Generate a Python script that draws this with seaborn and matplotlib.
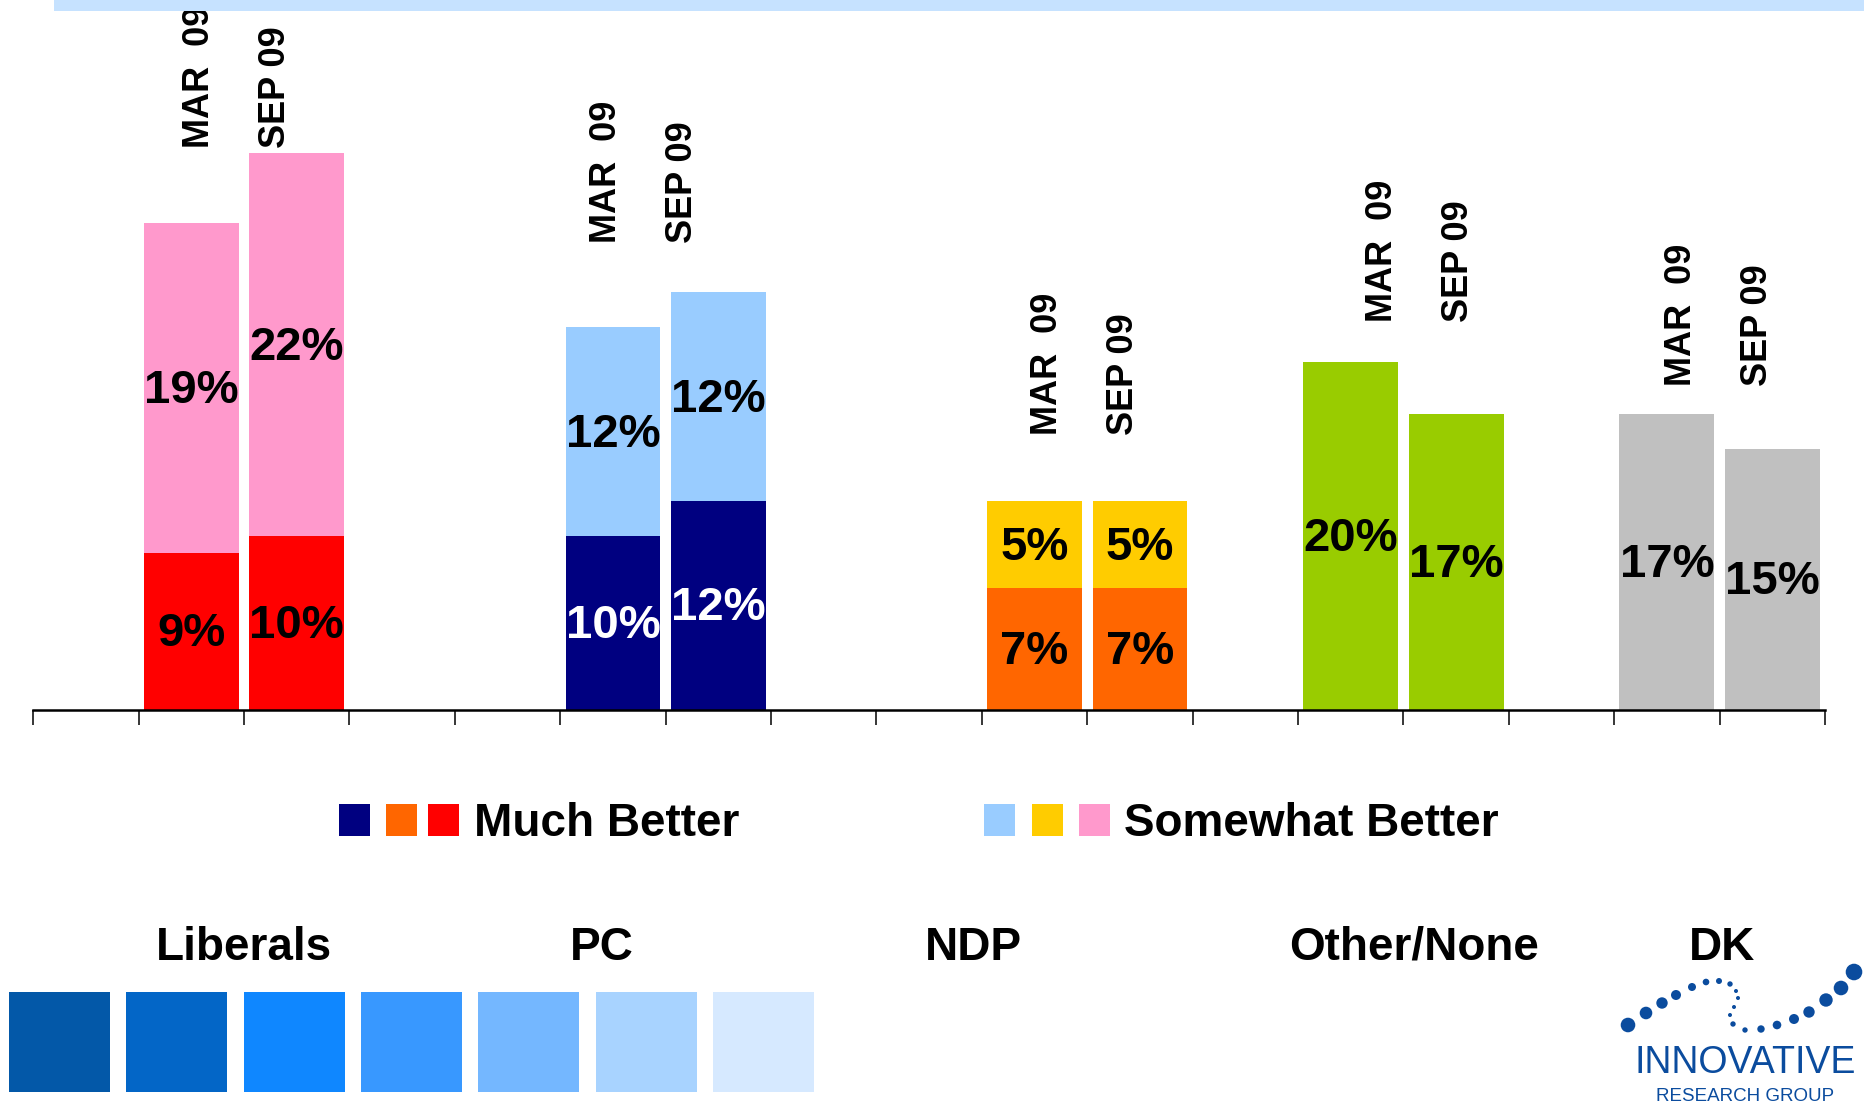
import numpy as np
import pandas as pd
import matplotlib
matplotlib.use('Agg')
import matplotlib.pyplot as plt
from matplotlib.patches import Rectangle
import seaborn as sns

# --- data ---
parties = ['Liberals', 'PC', 'NDP', 'Other/None', 'DK']
waves = ['MAR  09', 'SEP 09']
mar_much = [9, 10, 7, 20, 17]
sep_much = [10, 12, 7, 17, 15]
mar_somewhat = [19, 12, 5, 0, 0]
sep_somewhat = [22, 12, 5, 0, 0]

much_colors = ['#FF0000', '#000080', '#FF6600', '#99CC00', '#C0C0C0']
somewhat_colors = ['#FF99CC', '#99CCFF', '#FFCC00', '#99CC00', '#C0C0C0']
pct_colors = ['black', 'white', 'black', 'black', 'black']

# layout helpers
party_slot = [1, 5, 9, 12, 15]
wave_label_y = [32.3, 26.8, 15.8, 22.3, 18.6]
wave_label_shift = [-0.06, -0.2, -0.02, 0.16, 0.0]

swatch_colors = ['#0358A8', '#0366C7', '#0F87FF', '#3898FF', '#74B7FF', '#A8D3FF', '#D6E9FF']

# logo dots (pixel coords) and radii
logo_x = [1628, 1646, 1662, 1676, 1692, 1706, 1719, 1730, 1736, 1738, 1734, 1730,
          1733, 1745, 1761, 1777, 1794, 1809, 1826, 1841, 1854]
logo_y = [1025, 1013, 1003, 995, 987, 982, 981, 984, 991, 998, 1007, 1015,
          1024, 1030, 1029, 1025, 1019, 1012, 1000, 988, 972]
logo_r = [7.3, 6.3, 5.7, 5, 4, 3.3, 3, 2.7, 2, 2, 2, 2,
          2.7, 2.7, 3.7, 4.3, 5, 5.7, 6.7, 7.3, 8.3]

rows = []
for i, p in enumerate(parties):
    for j, (much, some) in enumerate([(mar_much[i], mar_somewhat[i]), (sep_much[i], sep_somewhat[i])]):
        rows.append({'party': p, 'wave': waves[j], 'slot': party_slot[i] + j,
                     'much': much, 'somewhat': some, 'total': much + some,
                     'key': f'{p} {waves[j]}', 'c_much': much_colors[i],
                     'c_some': somewhat_colors[i], 'c_txt': pct_colors[i]})
df = pd.DataFrame(rows)

sns.set_style('white')
plt.rcParams['font.family'] = ['Liberation Sans', 'DejaVu Sans']
plt.rcParams['text.color'] = 'black'

W, H = 1864, 1105
fig = plt.figure(figsize=(W / 100, H / 100), dpi=100)
ax = fig.add_axes([33.3 / W, (H - 710) / H, (1825 - 33.3) / W, 710 / H])

sns.barplot(data=df, x='slot', y='total', hue='key', palette=dict(zip(df['key'], df['c_some'])),
            dodge=False, native_scale=True, width=0.9, saturation=1, errorbar=None,
            legend=False, linewidth=0, ax=ax)
sns.barplot(data=df, x='slot', y='much', hue='key', palette=dict(zip(df['key'], df['c_much'])),
            dodge=False, native_scale=True, width=0.9, saturation=1, errorbar=None,
            legend=False, linewidth=0, ax=ax)

ax.set_xlim(-0.5, 16.5)
ax.set_ylim(0, 710 / 17.41)
ax.set_xticks(np.arange(-0.5, 17, 1))
ax.set_xticklabels([])
ax.set_yticks([])
ax.set_xlabel('')
ax.set_ylabel('')
for s in ['top', 'left', 'right']:
    ax.spines[s].set_visible(False)
ax.spines['bottom'].set_color('black')
ax.spines['bottom'].set_linewidth(1.8)
ax.tick_params(axis='x', direction='out', length=10.8, width=1.1, color='black', bottom=True)
ax.patch.set_alpha(0)

# percentage labels inside segments
for _, r in df.iterrows():
    ax.text(r['slot'], r['much'] / 2 - 0.15, f"{r['much']}%", ha='center', va='center',
            fontsize=34, fontweight='bold', color=r['c_txt'])
    if r['somewhat'] > 0:
        ax.text(r['slot'], r['much'] + r['somewhat'] / 2 - 0.2, f"{r['somewhat']}%", ha='center',
                va='center', fontsize=34, fontweight='bold', color='black')

# wave labels above each group
for i in range(len(parties)):
    cx = party_slot[i] + 0.5 + wave_label_shift[i]
    for j, off in enumerate([-0.36, 0.36]):
        ax.text(cx + off, wave_label_y[i], waves[j], rotation=90, ha='center', va='bottom',
                fontsize=26, fontweight='bold', color='black')

# overlay in pixel coordinates for legend, party names, swatches, logo
ov = fig.add_axes([0, 0, 1, 1])
ov.set_xlim(0, W)
ov.set_ylim(H, 0)
ov.axis('off')
ov.patch.set_alpha(0)

ov.add_patch(Rectangle((54, 0), W - 54, 11, color='#C6E2FF', lw=0))

for x0, c in zip([339, 386, 428], ['#000080', '#FF6600', '#FF0000']):
    ov.add_patch(Rectangle((x0, 804), 31, 32, color=c, lw=0))
ov.text(474, 836, 'Much Better', fontsize=33, fontweight='bold', va='baseline', ha='left',
        color='black')
for x0, c in zip([984, 1032, 1079], ['#99CCFF', '#FFCC00', '#FF99CC']):
    ov.add_patch(Rectangle((x0, 804), 31, 32, color=c, lw=0))
ov.text(1124, 836, 'Somewhat Better', fontsize=33, fontweight='bold', va='baseline', ha='left',
        color='black')

for name, cx in zip(parties, [244, 602, 973, 1414, 1722]):
    ov.text(cx, 960, name, fontsize=33, fontweight='bold', ha='center', va='baseline',
            color='black')

for k, c in enumerate(swatch_colors):
    ov.add_patch(Rectangle((9 + k * 117.3, 992), 101, 100, color=c, lw=0))

sns.scatterplot(x=logo_x, y=logo_y, s=[(1.44 * r) ** 2 for r in logo_r], color='#0B4C9E',
                edgecolor='none', legend=False, ax=ov)
ov.set_xlim(0, W)
ov.set_ylim(H, 0)
ov.text(1745, 1073, 'INNOVATIVE', fontsize=27, color='#0B4C9E', ha='center', va='baseline')
ov.text(1745, 1101, 'RESEARCH GROUP', fontsize=13.5, color='#0B4C9E', ha='center',
        va='baseline')

fig.savefig('out.png', dpi=100)
